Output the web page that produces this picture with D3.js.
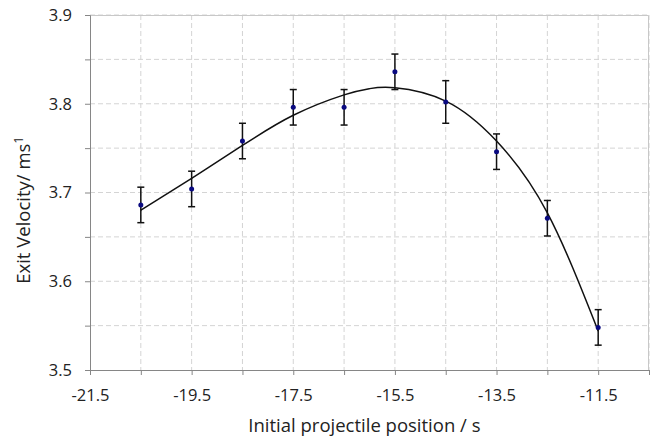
<!DOCTYPE html>
<html>
<head>
<meta charset="utf-8">
<script src="https://cdn.jsdelivr.net/npm/d3@7"></script>
<style>
  body { margin: 0; background: #fff; }
  svg text { font-family: "Open Sans", "Liberation Sans", sans-serif; fill: #222; }
</style>
</head>
<body>
<svg id="chart" width="659" height="437"></svg>
<script>
(function () {
    var width = 659, height = 437;
    var margin = { top: 15, right: 10, bottom: 67, left: 90 };

    // measured points
    var positions = [-20.5, -19.5, -18.5, -17.5, -16.5, -15.5, -14.5, -13.5, -12.5, -11.5];
    var velocities = [3.686, 3.704, 3.758, 3.796, 3.796, 3.836, 3.802, 3.746, 3.671, 3.548];
    var errors = [0.02, 0.02, 0.02, 0.02, 0.02, 0.02, 0.024, 0.02, 0.02, 0.02];

    // trend line
    var trendX = [-20.5, -19.5, -18.5, -17.5, -16.5, -16.0, -15.5, -14.5, -13.5, -12.5, -11.5];
    var trendY = [3.680, 3.716, 3.753, 3.787, 3.810, 3.817, 3.818, 3.803, 3.758, 3.677, 3.544];

    var xTicks = [-21.5, -19.5, -17.5, -15.5, -13.5, -11.5];
    var yTicks = [3.5, 3.6, 3.7, 3.8, 3.9];

    var w = width - margin.left - margin.right;
    var h = height - margin.top - margin.bottom;

    var x = d3.scaleLinear().domain([-21.5, -10.5]).range([0, w]);
    var y = d3.scaleLinear().domain([3.5, 3.9]).range([h, 0]);

    var svg = d3.select("#chart")
        .append("g")
        .attr("transform", "translate(" + margin.left + "," + margin.top + ")");

    // dashed grid
    var gridX = d3.range(-20.5, -10.4, 1);
    var gridY = d3.range(3.55, 3.91, 0.05);
    svg.append("g").selectAll("line").data(gridX).join("line")
        .attr("x1", d => x(d)).attr("x2", d => x(d))
        .attr("y1", 0).attr("y2", h)
        .attr("stroke", "#d4d4d4").attr("stroke-dasharray", "5,3");
    svg.append("g").selectAll("line").data(gridY).join("line")
        .attr("x1", 0).attr("x2", w)
        .attr("y1", d => y(d)).attr("y2", d => y(d))
        .attr("stroke", "#d4d4d4").attr("stroke-dasharray", "5,3");

    // frame top & right
    svg.append("path")
        .attr("d", "M0,0.5H" + (w - 0.5) + "V" + h)
        .attr("fill", "none").attr("stroke", "#c8c8c8");

    // axes
    var fmt = d => d3.format(".1f")(d).replace("\u2212", "-");
    var xAxis = svg.append("g")
        .attr("transform", "translate(0," + h + ")")
        .call(d3.axisBottom(x).tickValues(d3.range(-21.5, -10.4, 1)).tickSize(5)
            .tickFormat(d => xTicks.some(t => Math.abs(t - d) < 1e-6) ? fmt(d) : ""));
    var yAxis = svg.append("g")
        .call(d3.axisLeft(y).tickValues(d3.range(3.5, 3.91, 0.05)).tickSize(5)
            .tickFormat(d => yTicks.some(t => Math.abs(t - d) < 1e-6) ? fmt(d) : ""));
    [xAxis, yAxis].forEach(function (a) {
        a.select(".domain").attr("stroke", "#868686");
        a.selectAll(".tick line").attr("stroke", "#868686");
        a.selectAll("text").attr("font-size", 16.5).attr("fill", "#222");
    });
    xAxis.selectAll("text").attr("y", 26).attr("dy", "0.32em");
    yAxis.selectAll("text").attr("x", -18);

    // trend line
    var line = d3.line()
        .x((d, i) => x(trendX[i]))
        .y(d => y(d))
        .curve(d3.curveNatural);
    svg.append("path")
        .attr("d", line(trendY))
        .attr("fill", "none").attr("stroke", "#111").attr("stroke-width", 1.5);

    // error bars
    var eb = svg.append("g").selectAll("g").data(velocities).join("g");
    eb.append("line")
        .attr("x1", (d, i) => x(positions[i])).attr("x2", (d, i) => x(positions[i]))
        .attr("y1", (d, i) => y(d - errors[i])).attr("y2", (d, i) => y(d + errors[i]))
        .attr("stroke", "#111").attr("stroke-width", 1.5);
    eb.append("line")
        .attr("x1", (d, i) => x(positions[i]) - 3.5).attr("x2", (d, i) => x(positions[i]) + 3.5)
        .attr("y1", (d, i) => y(d + errors[i])).attr("y2", (d, i) => y(d + errors[i]))
        .attr("stroke", "#111").attr("stroke-width", 1.5);
    eb.append("line")
        .attr("x1", (d, i) => x(positions[i]) - 3.5).attr("x2", (d, i) => x(positions[i]) + 3.5)
        .attr("y1", (d, i) => y(d - errors[i])).attr("y2", (d, i) => y(d - errors[i]))
        .attr("stroke", "#111").attr("stroke-width", 1.5);

    // points
    svg.append("g").selectAll("circle").data(velocities).join("circle")
        .attr("cx", (d, i) => x(positions[i]))
        .attr("cy", d => y(d))
        .attr("r", 2.5)
        .attr("fill", "#0a0a80");

    // titles
    svg.append("text")
        .attr("x", x(-16.1)).attr("y", h + 62)
        .attr("text-anchor", "middle").attr("font-size", 18.5)
        .text("Initial projectile position / s");

    var yt = svg.append("text")
        .attr("transform", "translate(-60," + (y(3.68)) + ") rotate(-90)")
        .attr("text-anchor", "middle").attr("font-size", 18.5);
    yt.append("tspan").text("Exit Velocity/ ms");
    yt.append("tspan").attr("font-size", 12).attr("dy", "-0.6em").text("1");
})();
</script>
</body>
</html>
